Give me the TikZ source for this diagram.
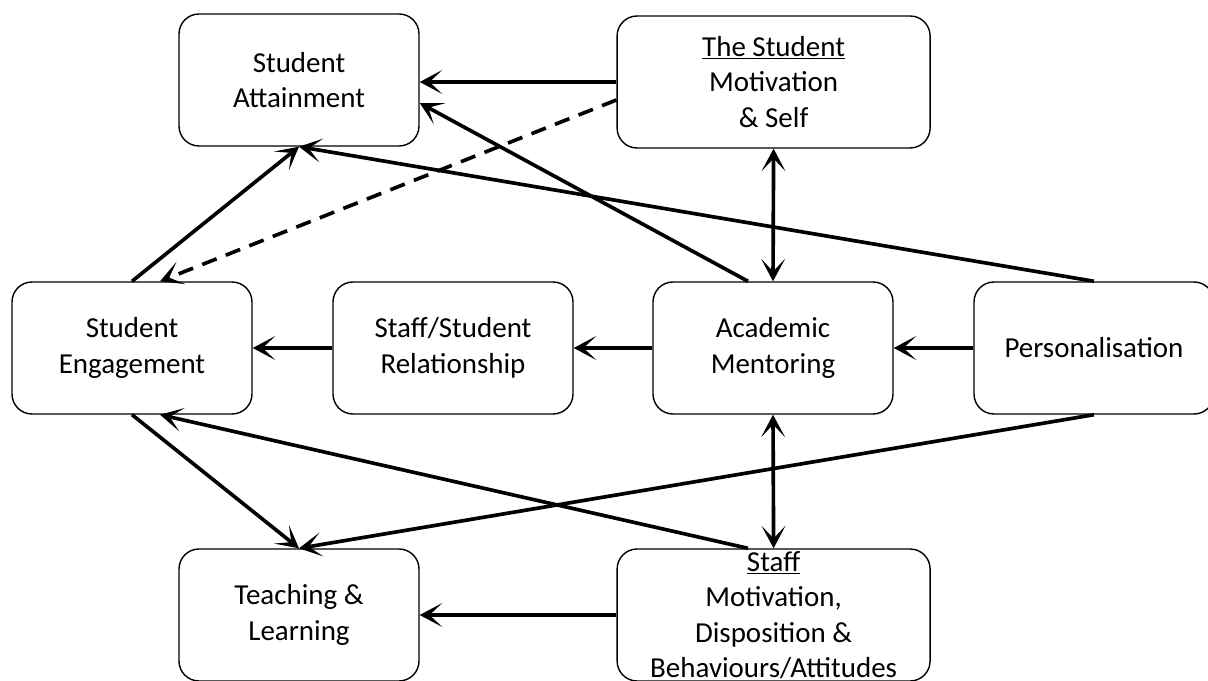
\documentclass[tikz,border=0pt]{standalone}
\usepackage{fontspec}
\setmainfont{Carlito}
\usepackage{tikz}
\usetikzlibrary{arrows.meta, positioning}

\begin{document}
\begin{tikzpicture}[
  mbox/.style={draw, line width=1pt, rounded corners=0.5cm, minimum height=3.3cm, minimum width=6cm, align=center, inner sep=0pt, font=\fontsize{20.6}{25.3}\selectfont},
  link/.style={line width=2.6pt, -{Stealth[length=16pt, width=17pt, inset=9pt]}},
  twoway/.style={line width=2.6pt, {Stealth[length=16pt, width=17pt, inset=9pt]}-{Stealth[length=16pt, width=17pt, inset=9pt]}}
]
  \useasboundingbox (0,0) rectangle (30.2,17);

  % top row
  \node[mbox] (attain) at (7.475, 15.0) {Student\\Attainment};
  \node[mbox, minimum width=7.825cm] (student) at (19.34, 14.95) {\underline{The Student}\\Motivation\\\& Self};

  % middle row
  \node[mbox] (engage) at (3.3, 8.3) {Student\\Engagement};
  \node[mbox] (rel) at (11.325, 8.3) {Staff/Student\\Relationship};
  \node[mbox] (mentor) at (19.325, 8.3) {Academic\\Mentoring};
  \node[mbox] (person) at (27.35, 8.3) {Personalisation};

  % bottom row
  \node[mbox] (teach) at (7.475, 1.625) {Teaching \&\\Learning};
  \node[mbox, minimum width=7.825cm] (staff) at (19.34, 1.625) {\underline{Staff}\\Motivation,\\Disposition \&\\Behaviours/Attitudes};

  \draw[link] (student.west) -- (student.west -| attain.east);
  \draw[link] ([xshift=-0.625cm]mentor.north) -- ([yshift=-0.575cm]attain.east);
  \draw[link] (person.north) -- (attain.south);
  \draw[link] (engage.north) -- (attain.south);
  \draw[link, dash pattern=on 11pt off 7pt] ([yshift=-0.45cm]student.west) -- ([xshift=0.7cm]engage.north);
  \draw[twoway] (mentor.north) -- (student.south);

  \draw[link] (mentor.west) -- (rel.east);
  \draw[link] (rel.west) -- (engage.east);
  \draw[link] (person.west) -- (mentor.east);
  \draw[twoway] (mentor.south) -- (staff.north);

  \draw[link] ([xshift=-0.64cm]staff.north) -- ([xshift=0.7cm]engage.south);
  \draw[link] (engage.south) -- (teach.north);
  \draw[link] (person.south) -- (teach.north);
  \draw[link] (staff.west) -- (staff.west -| teach.east);
\end{tikzpicture}
\end{document}
